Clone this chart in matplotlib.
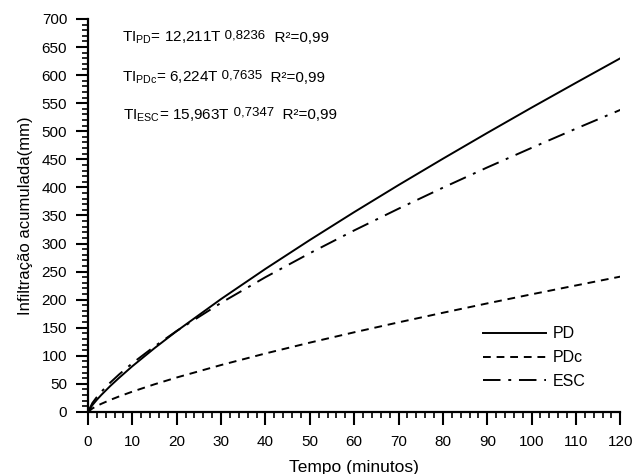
import matplotlib
matplotlib.use("Agg")
import matplotlib.pyplot as plt
from matplotlib.ticker import MultipleLocator

matplotlib.rcParams.update({
    "font.family": "Liberation Sans",
    "font.size": 11,
    "mathtext.fontset": "custom",
    "mathtext.rm": "Liberation Sans",
    "mathtext.it": "Liberation Sans",
})

# tempo (min) and accumulated infiltration (mm)
TEMPO = [0, 1, 2, 3, 5, 7, 10, 15, 20, 30, 40, 50, 60, 70, 80, 90, 100, 110, 120]
PD = [0, 12.2, 21.6, 30.2, 46.0, 60.6, 81.4, 113.6, 144.0, 201.1, 254.8, 306.2,
      355.9, 404.1, 451.0, 497.0, 542.1, 586.3, 630.0]
PDC = [0, 6.2, 10.6, 14.4, 21.3, 27.5, 36.1, 49.2, 61.3, 83.5, 104.1, 123.4,
       141.8, 159.5, 176.6, 193.3, 209.5, 225.3, 241.0]
ESC = [0, 16.0, 26.6, 35.8, 52.1, 66.7, 86.7, 116.7, 144.2, 194.3, 240.0, 282.7,
       323.3, 362.0, 399.4, 435.5, 470.4, 504.6, 538.0]

# fitted equations: (subscript, coefficient, exponent)
EQ_SUB = ["PD", "PDc", "ESC"]
EQ_COEF = ["12,211", "6,224", "15,963"]
EQ_EXP = ["0,8236", "0,7635", "0,7347"]
EQ_R2 = ["0,99", "0,99", "0,99"]
EQ_X = [7.6, 7.6, 8.0]
EQ_Y = [659, 588, 521]

fig = plt.figure(figsize=(6.33, 4.74), dpi=100)
ax = fig.add_axes([0.139, 0.131, 0.841, 0.829])

ax.plot(TEMPO, PD, color="black", lw=1.4, ls="-", label="PD")
ax.plot(TEMPO, PDC, color="black", lw=1.4, ls=(0, (4, 3)), label="PDc")
ax.plot(TEMPO, ESC, color="black", lw=1.4, ls=(0, (9, 4, 1.5, 4)), label="ESC")

for sub, coef, exp, r2, x, y in zip(EQ_SUB, EQ_COEF, EQ_EXP, EQ_R2, EQ_X, EQ_Y):
    base = ax.text(x, y, "TI$_{\\mathrm{" + sub + "}}$= " + coef + "T",
                   fontsize=11, va="baseline", ha="left")
    sup = ax.annotate(" " + exp, xy=(1, y), xycoords=(base, "data"),
                      fontsize=9.5, xytext=(0, 2.5), textcoords="offset points",
                      va="baseline", ha="left")
    ax.annotate("  R²=" + r2, xy=(1, y), xycoords=(sup, "data"),
                fontsize=11, va="baseline", ha="left")

ax.set_xlim(0, 120)
ax.set_ylim(0, 700)
ax.xaxis.set_major_locator(MultipleLocator(10))
ax.xaxis.set_minor_locator(MultipleLocator(2))
ax.yaxis.set_major_locator(MultipleLocator(50))
ax.yaxis.set_minor_locator(MultipleLocator(10))
ax.tick_params(which="major", direction="out", length=9, width=1.5, pad=6)
ax.tick_params(axis="x", which="major", pad=7.5)
ax.tick_params(which="minor", direction="out", length=4.5, width=1.2)

for side in ("top", "right"):
    ax.spines[side].set_visible(False)
for side in ("left", "bottom"):
    ax.spines[side].set_linewidth(1.6)

ax.set_xlabel("Tempo (minutos)", fontsize=12.5, labelpad=8)
ax.set_ylabel("Infiltração acumulada(mm)", fontsize=12, labelpad=6)

ax.legend(loc="lower right", bbox_to_anchor=(0.962, 0.022), frameon=False,
          handlelength=4.0, handletextpad=0.4, labelspacing=0.55, fontsize=11.5)

fig.savefig("out.png", dpi=100)
